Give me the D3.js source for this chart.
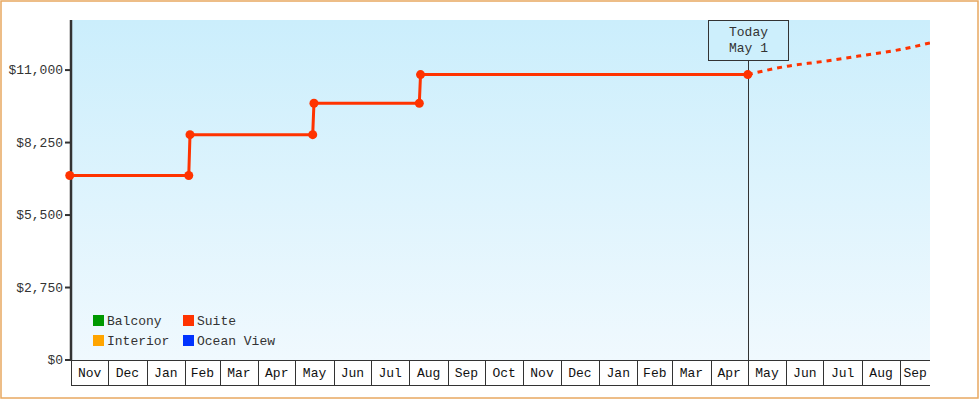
<!DOCTYPE html>
<html>
<head>
<meta charset="utf-8">
<script src="https://cdn.jsdelivr.net/npm/d3@7"></script>
<style>
  body { margin: 0; background: #fff; }
  svg text { font-family: "Liberation Mono", "DejaVu Sans Mono", monospace; font-size: 13px; fill: #333; }
</style>
</head>
<body>
<div id="chart"></div>
<script>
// price history (suite), dates
const historyDates = ["2012-10-31", "2013-02-04", "2013-02-05", "2013-05-15", "2013-05-16", "2013-08-09", "2013-08-10", "2014-05-01"];
const historyPrices = [7000, 7000, 8550, 8550, 9740, 9740, 10830, 10830];
// forecast after today
const forecastDates = ["2014-05-01", "2014-06-01", "2014-07-01", "2014-08-01", "2014-09-01", "2014-10-01"];
const forecastPrices = [10830, 11140, 11330, 11550, 11780, 12100];
const yTicks = [0, 2750, 5500, 8250, 11000];
const legendNames = ["Balcony", "Interior", "Suite", "Ocean View"];
const legendColors = ["#009900", "#ffa500", "#ff3300", "#0033ff"];
const todayDate = "2014-05-01";
const todayLabel = ["Today", "May 1"];

(() => {
  const width = 980, height = 400;
  const left = 71, right = 930, top = 20, bottom = 360, axisH = 25;
  const parse = d3.timeParse("%Y-%m-%d");

  const svg = d3.select("#chart").append("svg")
    .attr("width", width)
    .attr("height", height);

  const x = d3.scaleTime()
    .domain([parse("2012-11-01"), parse("2014-09-25")])
    .range([left, right]);
  const y = d3.scaleLinear()
    .domain([0, 12900])
    .range([bottom, top]);

  const grad = svg.append("defs").append("linearGradient")
    .attr("id", "bg").attr("x1", 0).attr("y1", 0).attr("x2", 0).attr("y2", 1);
  grad.append("stop").attr("offset", "0%").attr("stop-color", "#cbeefc");
  grad.append("stop").attr("offset", "100%").attr("stop-color", "#f0f9fe");

  svg.append("rect")
    .attr("x", left).attr("y", top)
    .attr("width", right - left).attr("height", bottom - top)
    .attr("fill", "url(#bg)");

  // month boxes along the bottom
  const months = d3.timeMonth.range(d3.timeMonth.floor(x.domain()[0]), x.domain()[1]);
  const xAxis = svg.append("g");
  xAxis.append("line")
    .attr("x1", left).attr("x2", right)
    .attr("y1", bottom + 0.5).attr("y2", bottom + 0.5)
    .attr("stroke", "#333");
  xAxis.append("line")
    .attr("x1", left).attr("x2", right)
    .attr("y1", bottom + axisH + 0.5).attr("y2", bottom + axisH + 0.5)
    .attr("stroke", "#333");
  const mg = xAxis.selectAll("g.month")
    .data(months)
    .join("g")
    .attr("class", "month");
  mg.append("line")
    .attr("x1", d => Math.round(Math.max(left, x(d))) + 0.5)
    .attr("x2", d => Math.round(Math.max(left, x(d))) + 0.5)
    .attr("y1", bottom).attr("y2", bottom + axisH)
    .attr("stroke", "#333");
  mg.append("text")
    .attr("x", d => {
      const a = Math.max(left, x(d));
      const b = Math.min(right, x(d3.timeMonth.offset(d, 1)));
      return (a + b) / 2;
    })
    .attr("y", bottom + 17)
    .attr("text-anchor", "middle")
    .style("fill", "#111")
    .text(d3.timeFormat("%b"));

  // y axis
  const yAxis = svg.append("g");
  yAxis.append("line")
    .attr("x1", left).attr("x2", left)
    .attr("y1", top).attr("y2", bottom + 1)
    .attr("stroke", "#333").attr("stroke-width", 2.5);
  yAxis.selectAll("line.tick")
    .data(yTicks)
    .join("line")
    .attr("class", "tick")
    .attr("x1", left - 6).attr("x2", left)
    .attr("y1", d => y(d)).attr("y2", d => y(d))
    .attr("stroke", "#333").attr("stroke-width", 2);
  yAxis.selectAll("text")
    .data(yTicks)
    .join("text")
    .attr("x", left - 8)
    .attr("y", d => y(d) + 4)
    .attr("text-anchor", "end")
    .text(d => "$" + d3.format(",")(d));

  // today marker
  const tx = Math.round(x(parse(todayDate))) + 0.5;
  svg.append("line")
    .attr("x1", tx).attr("x2", tx)
    .attr("y1", 60).attr("y2", bottom)
    .attr("stroke", "#333");
  svg.append("rect")
    .attr("x", tx - 40).attr("y", top + 0.5)
    .attr("width", 80).attr("height", 40)
    .attr("fill", "#cdeffc")
    .attr("stroke", "#333");
  svg.selectAll("text.today")
    .data(todayLabel)
    .join("text")
    .attr("class", "today")
    .attr("x", tx)
    .attr("y", (d, i) => top + 16 + i * 16)
    .attr("text-anchor", "middle")
    .text(d => d);

  svg.append("clipPath").attr("id", "plotclip")
    .append("rect")
    .attr("x", 0).attr("y", top)
    .attr("width", right).attr("height", bottom - top);

  const history = historyDates.map((d, i) => ({ date: parse(d), value: historyPrices[i] }));
  const forecast = forecastDates.map((d, i) => ({ date: parse(d), value: forecastPrices[i] }));

  const line = d3.line()
    .x(d => x(d.date))
    .y(d => y(d.value));

  const plot = svg.append("g").attr("clip-path", "url(#plotclip)");

  plot.append("path")
    .datum(forecast)
    .attr("d", line.curve(d3.curveMonotoneX))
    .attr("fill", "none")
    .attr("stroke", "#ff3300")
    .attr("stroke-width", 3)
    .attr("stroke-dasharray", "5,5");

  plot.append("path")
    .datum(history)
    .attr("d", line.curve(d3.curveLinear))
    .attr("fill", "none")
    .attr("stroke", "#ff3300")
    .attr("stroke-width", 3);

  plot.selectAll("circle")
    .data(history)
    .join("circle")
    .attr("cx", d => x(d.date))
    .attr("cy", d => y(d.value))
    .attr("r", 4.5)
    .attr("fill", "#ff3300");

  // legend
  const lg = svg.append("g")
    .selectAll("g")
    .data(legendNames)
    .join("g")
    .attr("transform", (d, i) => `translate(${93 + Math.floor(i / 2) * 90}, ${315 + (i % 2) * 20})`);
  lg.append("rect")
    .attr("width", 11).attr("height", 11)
    .attr("fill", (d, i) => legendColors[i]);
  lg.append("text")
    .attr("x", 14).attr("y", 10)
    .text(d => d);

  svg.append("rect")
    .attr("x", 1).attr("y", 1)
    .attr("width", width - 3).attr("height", height - 3)
    .attr("fill", "none")
    .attr("stroke", "#e8a860")
    .attr("stroke-width", 1.5);
})();
</script>
</body>
</html>
